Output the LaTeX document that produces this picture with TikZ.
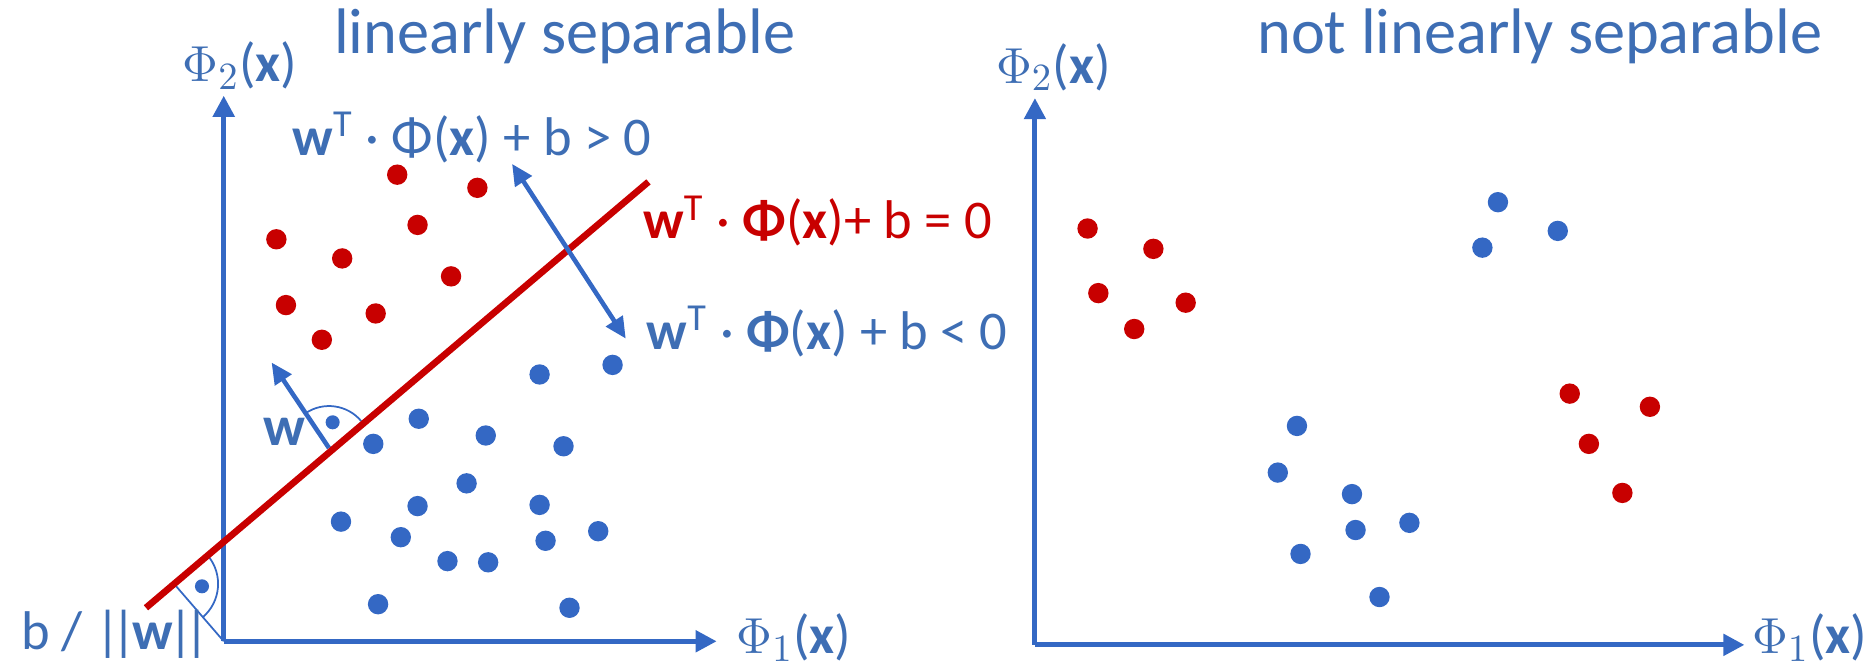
\documentclass[tikz,border=0pt]{standalone}
\usepackage{fontspec}
\setmainfont{Carlito}
\usepackage{xcolor}
\usetikzlibrary{arrows.meta,positioning}

\definecolor{axblue}{RGB}{52,104,196}
\definecolor{txtblue}{RGB}{62,110,180}
\definecolor{hypred}{RGB}{200,0,0}

\newcommand{\phiax}[1]{$\Phi_{#1}$(\textbf{x})}

\begin{document}
\begin{tikzpicture}[x=0.011964cm, y=-0.011964cm,
    axis/.style={axblue, line width=1.4pt, -{Triangle[length=6pt,width=6pt]}},
    hyp/.style={hypred, line width=1.9pt},
    thinarr/.style={axblue, line width=1.3pt},
    guide/.style={axblue, line width=0.5pt},
    rdot/.style={circle, fill=hypred, inner sep=0pt, minimum size=5.8pt},
    bdot/.style={circle, fill=axblue, inner sep=0pt, minimum size=5.8pt},
    angdot/.style={circle, fill=axblue, inner sep=0pt, minimum size=4pt},
    lbl/.style={txtblue, font=\fontsize{15.5}{18}\selectfont, inner sep=0pt},
    title/.style={txtblue, font=\fontsize{18.3}{22}\selectfont, inner sep=0pt}
  ]
  \useasboundingbox (0,0) rectangle (1568,557);

  % Titles
  \node[title] (tleft) at (472,30) {linearly separable};
  \node[title] (tright) at (1287,30) {not linearly separable};

  % Left axes
  \coordinate (O1) at (187,536);
  \coordinate (Y1) at (187,80);
  \coordinate (X1) at (599,536);
  \draw[axis] (O1) -- (Y1);
  \draw[axis] (O1) -- (X1);
  \node[lbl, anchor=west] (phiyl) at (152,55) {\phiax{2}};
  \node[lbl, anchor=west] (phixl) at (615,533) {\phiax{1}};

  % Right axes
  \coordinate (O2) at (865,539);
  \coordinate (Y2) at (865,82);
  \coordinate (X2) at (1458,539);
  \draw[axis] (O2) -- (Y2);
  \draw[axis] (O2) -- (X2);
  \node[lbl, anchor=west] (phiyr) at (832,56) {\phiax{2}};
  \node[lbl, anchor=west] (phixr) at (1464,533) {\phiax{1}};

  % Left points
  \foreach \px/\py [count=\i] in {332/146, 399/157, 231/200, 349/188, 286/216,
      377/231, 239/255, 314/262, 269/284}
    \node[rdot] (lr\i) at (\px,\py) {};
  \foreach \px/\py [count=\i] in {451/313, 512/305, 350/350, 406/364, 312/371,
      471/373, 390/404, 349/423, 451/422, 285/436, 335/449, 456/452, 500/444,
      374/469, 408/470, 316/505, 476/508}
    \node[bdot] (lb\i) at (\px,\py) {};

  % Right points
  \foreach \px/\py [count=\i] in {909/191, 964/208, 918/245, 991/253, 948/275,
      1312/329, 1379/340, 1328/371, 1356/412}
    \node[rdot] (rr\i) at (\px,\py) {};
  \foreach \px/\py [count=\i] in {1252/169, 1302/193, 1239/207, 1084/356,
      1068/395, 1130/413, 1178/437, 1133/443, 1087/463, 1153/499}
    \node[bdot] (rb\i) at (\px,\py) {};

  % Distance b/||w|| with right angle
  \coordinate (F) at (145.5,488);
  \draw[guide] (F) -- (O1);
  \draw[guide] ([shift={(40:4.4mm)}]F) arc[start angle=40, end angle=-50, radius=4.4mm];
  \node[angdot] (fdot) at ([shift={(-5:2.8mm)}]F) {};
  \node[lbl, anchor=west] (dist) at (17,530)
    {b / |\kern-2.6pt|\kern-1.2pt\textbf{w}\kern-1.2pt|\kern-2.6pt|};

  % Normal vector w
  \coordinate (Wb) at (275,374.5);
  \coordinate (Wt) at (227,303);
  \draw[thinarr, -{Triangle[length=6pt,width=5.5pt]}] (Wb) -- (Wt);
  \draw[guide] ([shift={(40:4.2mm)}]Wb) arc[start angle=40, end angle=124, radius=4.2mm];
  \node[angdot] (wdot) at ([shift={(82:2.6mm)}]Wb) {};
  \node[lbl, font=\fontsize{16}{20}\selectfont\bfseries] (wlbl) at (238,361) {w};

  % Separating hyperplane
  \coordinate (L1) at (122,508);
  \coordinate (L2) at (542,152);
  \draw[hyp] (L1) -- (L2);

  % Sides of the hyperplane
  \coordinate (A1) at (428,137);
  \coordinate (A2) at (523,283);
  \draw[thinarr, {Triangle[length=6pt,width=5.5pt]}-{Triangle[length=6pt,width=5.5pt]}] (A1) -- (A2);

  % Labels
  \node[lbl, anchor=west] (pos) at (244,115)
    {\textbf{w}\textsuperscript{T} · Φ(\textbf{x}) + b > 0};
  \node[lbl, hypred, anchor=west] (zero) at (537,185)
    {\textbf{w}\textsuperscript{T} · \textbf{Φ}(\textbf{x})+ b = 0};
  \node[lbl, anchor=west] (neg) at (540,277)
    {\textbf{w}\textsuperscript{T} · \textbf{Φ}(\textbf{x}) + b < 0};
\end{tikzpicture}
\end{document}
